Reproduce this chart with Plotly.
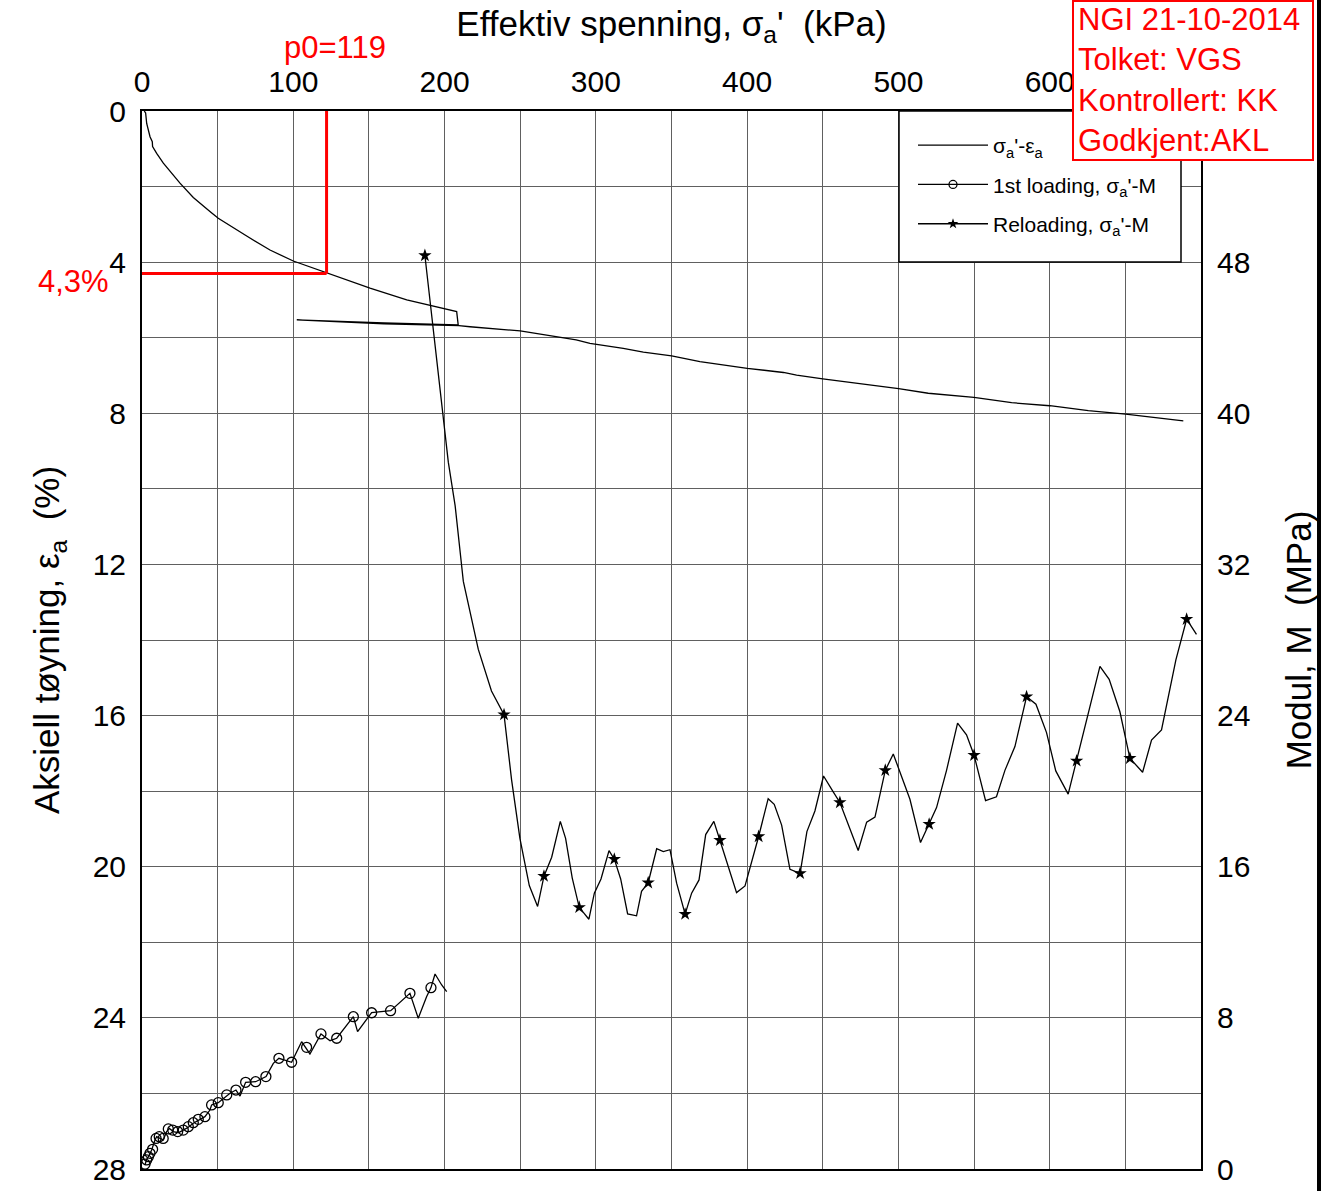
import plotly.graph_objects as go

# ---------------- data ----------------
# sigma_a' - eps_a curve (kPa, %)
strain_sigma = [1.5, 2.4, 3.1, 5.3, 6.8, 7.0, 9.7, 14.1, 25.1, 33.9, 44.9, 50.4, 69.2, 84.6,
                100.0, 122.0, 150.7, 175.0, 208.0, 209.0, 160.0, 102.3, 160.0, 209.5, 216.8,
                250.0, 287.0, 296.1, 318.1, 331.4, 350.1, 368.8, 400.1, 424.0, 432.7, 450.0,
                472.3, 500.1, 519.7, 549.9, 574.8, 600.1, 625.5, 650.2, 688.3]
strain_eps = [0.0, 0.05, 0.33, 0.68, 0.81, 0.94, 1.12, 1.38, 1.91, 2.29, 2.66, 2.84, 3.31, 3.68,
              3.97, 4.28, 4.69, 5.00, 5.31, 5.66, 5.61, 5.53, 5.63, 5.68, 5.71,
              5.82, 6.06, 6.15, 6.28, 6.38, 6.48, 6.63, 6.81, 6.92, 6.99, 7.09,
              7.20, 7.35, 7.47, 7.58, 7.72, 7.80, 7.93, 8.02, 8.20]

# 1st loading, sigma_a' - M (kPa, MPa): line and circle points
load_sigma = [1.98, 3.08, 4.85, 6.39, 8.59, 9.69, 11.9, 14.1, 16.3, 18.1, 20.7, 24.0, 27.3,
              30.6, 33.9, 37.2, 41.6, 44.9, 46.0, 50.4, 56.0, 58.2, 62.1, 64.8, 68.5, 75.1,
              82.0, 86.8, 90.5, 98.9, 105.5, 111.0, 118.3, 124.3, 128.7, 139.7, 142.5, 151.8,
              164.4, 177.1, 182.6, 188.1, 191.0, 193.7, 198.1, 201.4]
load_M = [0.21, 0.51, 0.74, 1.01, 1.54, 1.71, 1.62, 1.54, 1.98, 2.15, 1.98, 1.92, 2.06,
          2.21, 2.42, 2.59, 2.77, 3.12, 3.39, 3.51, 3.86, 4.01, 4.18, 3.86, 4.59, 4.62,
          4.89, 5.59, 5.86, 5.65, 6.74, 6.09, 7.15, 6.79, 6.92, 8.06, 7.27, 8.28,
          8.38, 9.30, 7.98, 9.12, 9.60, 10.32, 9.74, 9.39]
load_pts_sigma = [2.0, 3.1, 4.2, 5.3, 7.0, 9.3, 11.4, 14.0, 17.4, 20.3, 23.6, 27.3, 30.6,
                  33.9, 37.2, 41.6, 46.0, 50.4, 56.0, 62.1, 68.5, 75.1, 81.9, 90.5, 98.9,
                  108.8, 118.3, 128.7, 139.7, 151.8, 164.3, 177.1, 191.0]
load_pts_M = [0.26, 0.48, 0.65, 0.83, 1.04, 1.62, 1.71, 1.62, 2.12, 2.06, 1.98, 2.06, 2.24,
              2.45, 2.63, 2.77, 3.39, 3.51, 3.92, 4.18, 4.59, 4.62, 4.89, 5.86, 5.65,
              6.44, 7.15, 6.92, 8.06, 8.27, 8.38, 9.30, 9.60]

# Reloading, sigma_a' - M (kPa, MPa): line and star points
reload_sigma = [187.0, 192.5, 199.0, 202.5, 207.0, 212.4, 222.3, 231.0, 239.3, 244.3, 249.8,
                256.0, 261.5, 265.7, 270.8, 276.5, 280.0, 284.4, 289.0, 295.4, 299.0, 303.4,
                308.7, 312.2, 316.4, 321.0, 326.9, 330.2, 334.6, 340.2, 344.6, 349.0, 353.4,
                359.0, 363.3, 368.2, 372.6, 378.0, 382.0, 393.0, 398.6, 407.6, 413.9, 417.9,
                422.8, 428.3, 435.0, 439.5, 444.8, 450.5, 457.0, 461.3, 473.4, 479.0, 484.5,
                491.3, 496.6, 507.6, 514.6, 520.3, 525.2, 531.8, 539.1, 545.0, 550.0, 557.6,
                564.8, 570.4, 577.0, 584.7, 590.9, 597.9, 604.0, 612.2, 617.8, 624.8, 633.2,
                639.3, 646.4, 653.0, 661.4, 667.3, 673.9, 683.4, 690.5, 697.0]
reload_M = [48.35, 44.5, 39.8, 37.4, 35.1, 31.1, 27.5, 25.3, 24.05, 20.6, 17.5,
            15.0, 13.9, 15.5, 16.5, 18.4, 17.5, 15.4, 13.85, 13.22, 14.6, 15.35,
            16.85, 16.4, 15.35, 13.5, 13.4, 14.7, 15.15, 16.95, 16.8, 16.9, 15.13,
            13.49, 14.6, 15.3, 17.7, 18.4, 17.4, 14.63, 14.98, 17.6, 19.6, 19.3,
            18.2, 15.86, 15.65, 17.86, 18.95, 20.8, 19.95, 19.4, 16.86, 18.36, 18.63,
            21.1, 21.97, 19.57, 17.28, 18.25, 19.13, 21.1, 23.6, 22.98, 21.9, 19.5,
            19.7, 21.1, 22.36, 25.0, 24.6, 23.1, 21.07, 19.84, 21.6, 23.86, 26.6,
            25.92, 24.2, 21.74, 21.0, 22.7, 23.24, 26.95, 29.1, 28.3]
reload_pts_sigma = [187.0, 239.3, 265.7, 289.0, 312.2, 334.6, 359.0, 382.0, 407.6, 435.0,
                    461.3, 491.3, 520.3, 550.0, 584.7, 617.8, 653.0, 690.5]
reload_pts_M = [48.35, 24.05, 15.5, 13.85, 16.4, 15.15, 13.49, 17.4, 17.6, 15.65,
                19.4, 21.1, 18.25, 21.9, 25.0, 21.6, 21.74, 29.1]

# axes ticks
x_ticks = [0, 50, 100, 150, 200, 250, 300, 350, 400, 450, 500, 550, 600, 650, 700]
x_ticktext = ["0", "", "100", "", "200", "", "300", "", "400", "", "500", "", "600", "", ""]
eps_ticks = [0, 2, 4, 6, 8, 10, 12, 14, 16, 18, 20, 22, 24, 26, 28]
eps_ticktext = ["0", "", "4", "", "8", "", "12", "", "16", "", "20", "", "24", "", "28"]
M_ticks = [0, 8, 16, 24, 32, 40, 48]

# preconsolidation markers
p0_line_sigma = 122.0
p0_label = "p0=119"
eps_p0 = 4.3
eps_p0_label = "4,3%"
stamp_text = "NGI 21-10-2014<br>Tolket: VGS<br>Kontrollert: KK<br>Godkjent:AKL"

FONT = "Liberation Sans, Arial, sans-serif"
RED = "#ff0000"

fig = go.Figure()

fig.add_trace(go.Scatter(x=strain_sigma, y=strain_eps, mode="lines",
                         line=dict(color="black", width=1.3), showlegend=False,
                         xaxis="x", yaxis="y"))
fig.add_trace(go.Scatter(x=load_sigma, y=load_M, mode="lines",
                         line=dict(color="black", width=1.3), showlegend=False,
                         xaxis="x", yaxis="y2"))
fig.add_trace(go.Scatter(x=load_pts_sigma, y=load_pts_M, mode="markers",
                         marker=dict(symbol="circle-open", size=10, color="black",
                                     line=dict(width=1.3, color="black")),
                         showlegend=False, xaxis="x", yaxis="y2"))
fig.add_trace(go.Scatter(x=reload_sigma, y=reload_M, mode="lines",
                         line=dict(color="black", width=1.3), showlegend=False,
                         xaxis="x", yaxis="y2"))
fig.add_trace(go.Scatter(x=reload_pts_sigma, y=reload_pts_M, mode="markers",
                         marker=dict(symbol="star", size=10, color="black"),
                         showlegend=False, xaxis="x", yaxis="y2"))

# legend entries
fig.add_trace(go.Scatter(x=[None], y=[None], mode="lines",
                         line=dict(color="black", width=1.3),
                         name="σ<sub>a</sub>'-ε<sub>a</sub>", legendgroup="a"))
fig.add_trace(go.Scatter(x=[None], y=[None], mode="lines+markers",
                         line=dict(color="black", width=1.3),
                         marker=dict(symbol="circle-open", size=8, color="black",
                                     line=dict(width=1.3, color="black")),
                         name="1st loading, σ<sub>a</sub>'-M", legendgroup="b"))
fig.add_trace(go.Scatter(x=[None], y=[None], mode="lines+markers",
                         line=dict(color="black", width=1.3),
                         marker=dict(symbol="star", size=8, color="black"),
                         name="Reloading, σ<sub>a</sub>'-M", legendgroup="c"))

L, R, T, B = 142, 126, 111, 22
W, H = 1327, 1191
pw, ph = W - L - R, H - T - B


def px(xp):
    return (xp - L) / pw


def py(yp):
    return (H - B - yp) / ph


shapes = [
    # p0 lines
    dict(type="line", xref="x", yref="y", x0=p0_line_sigma, x1=p0_line_sigma, y0=0, y1=eps_p0,
         line=dict(color=RED, width=3), layer="above"),
    dict(type="line", xref="x", yref="y", x0=0, x1=p0_line_sigma, y0=eps_p0, y1=eps_p0,
         line=dict(color=RED, width=3), layer="above"),
    # legend box
    dict(type="rect", xref="paper", yref="paper", x0=px(899), x1=px(1181), y0=py(262), y1=py(111),
         line=dict(color="black", width=1.5), fillcolor="white", layer="above"),
    # stamp box
    dict(type="rect", xref="paper", yref="paper", x0=px(1073), x1=px(1313), y0=py(160), y1=py(1),
         line=dict(color=RED, width=2), fillcolor="white", layer="above"),
    # right border line
    dict(type="line", xref="paper", yref="paper", x0=px(1319), x1=px(1319), y0=py(1195), y1=py(-5),
         line=dict(color="black", width=4), layer="above"),
]

annotations = [
    dict(text=p0_label, xref="paper", yref="paper", x=px(335), y=py(47), xanchor="center",
         yanchor="middle", showarrow=False, font=dict(family=FONT, size=31, color=RED)),
    dict(text=eps_p0_label, xref="paper", yref="paper", x=px(111), y=py(281), xanchor="right",
         yanchor="middle", showarrow=False, font=dict(family=FONT, size=31, color=RED)),
    dict(text=stamp_text, xref="paper", yref="paper", x=px(1076), y=py(80), xanchor="left",
         yanchor="middle", align="left", showarrow=False,
         font=dict(family=FONT, size=31, color=RED)),
]

fig.update_layout(
    template="none",
    width=W, height=H,
    margin=dict(l=L, r=R, t=T, b=B, autoexpand=False),
    paper_bgcolor="white", plot_bgcolor="white",
    font=dict(family=FONT, color="black", size=30),
    showlegend=True,
    legend=dict(x=px(913), y=py(125), xanchor="left", yanchor="top",
                bgcolor="rgba(0,0,0,0)", borderwidth=0,
                font=dict(family=FONT, size=21, color="black"),
                tracegroupgap=9, itemwidth=70),
    xaxis=dict(side="top", range=[0, 700], tickvals=x_ticks, ticktext=x_ticktext,
               showgrid=True, gridcolor="#606060", gridwidth=1, zeroline=False,
               showline=True, linecolor="black", linewidth=2, mirror=True, ticks="",
               ticklabelstandoff=5, automargin=False,
               tickfont=dict(family=FONT, size=30),
               title=dict(text="Effektiv spenning, σ<sub>a</sub>'\u00a0 (kPa)",
                          font=dict(family=FONT, size=35), standoff=18)),
    yaxis=dict(range=[28, 0], tickvals=eps_ticks, ticktext=eps_ticktext,
               showgrid=True, gridcolor="#606060", gridwidth=1, zeroline=False,
               showline=True, linecolor="black", linewidth=2, mirror=True, ticks="",
               ticklabelstandoff=8, automargin=False,
               tickfont=dict(family=FONT, size=30),
               title=dict(text="Aksiell tøyning, ε<sub>a</sub>\u00a0 (%)",
                          font=dict(family=FONT, size=35), standoff=22)),
    yaxis2=dict(range=[0, 56], overlaying="y", side="right", anchor="x",
                tickvals=M_ticks, showgrid=False, zeroline=False,
                showline=True, linecolor="black", linewidth=2, ticks="",
                ticklabelstandoff=8, automargin=False,
                tickfont=dict(family=FONT, size=30),
                title=dict(text="Modul, M\u00a0 (MPa)",
                           font=dict(family=FONT, size=35), standoff=37)),
    shapes=shapes,
    annotations=annotations,
)

fig.write_html("out.html")
